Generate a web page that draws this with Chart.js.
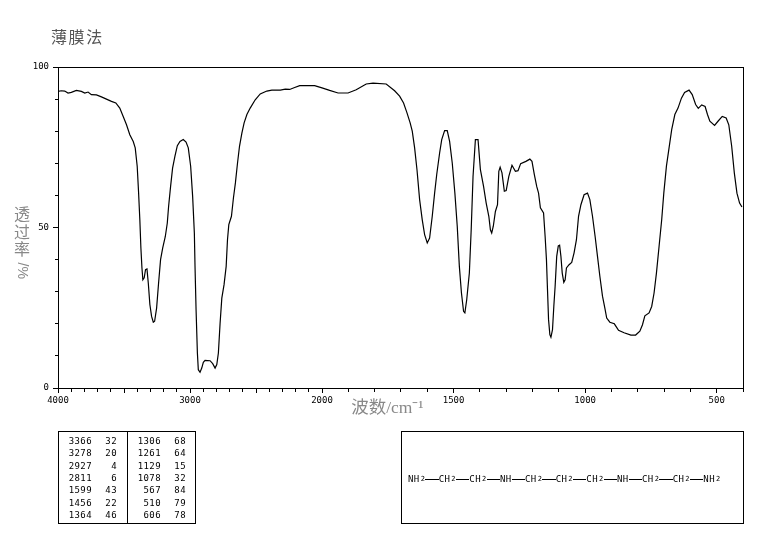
<!DOCTYPE html>
<html>
<head>
<meta charset="utf-8">
<script src="https://cdn.jsdelivr.net/npm/chart.js@4/dist/chart.umd.min.js"></script>
<style>
body { margin: 0; background: #fff; }
#page { position: relative; width: 765px; height: 539px; overflow: hidden; }
canvas { position: absolute; left: 0; top: 0; }
#method { position: absolute; left: 51px; top: 24px; font: 16px "Noto Sans CJK SC"; color: #555; letter-spacing: 1.6px; }
#yTitle { position: absolute; left: 14px; top: 205px; width: 16px; font: 16px/17.5px "Noto Sans CJK SC"; color: #888; text-align: center; }
#yTitle div { height: 17.5px; }
#yTitle .turned { width: 18px; margin-top: 0; transform: translate(-1px, 4px) rotate(90deg); white-space: nowrap; font-family: "Liberation Sans"; font-size: 14px; }
#peaks { position: absolute; left: 58px; top: 431px; width: 136px; height: 91px; border: 1px solid #000; font: 9px "DejaVu Sans Mono", monospace; letter-spacing: 0.4px; color: #000; }
#peaks .divider { position: absolute; left: 68px; top: 0; bottom: 0; border-left: 1px solid #000; }
#peaks span { position: absolute; text-align: right; line-height: 10px; white-space: nowrap; }
#structure { position: absolute; left: 401px; top: 431px; width: 343px; height: 93px; border: 1px solid #000; font: 9px "DejaVu Sans Mono", monospace; letter-spacing: 0.4px; color: #000; display: flex; align-items: center; padding: 3px 0 0 6px; box-sizing: border-box; white-space: nowrap; }
#structure sub { font-size: 7px; line-height: 0; margin-left: 1px; vertical-align: -2px; }
#structure i { display: inline-block; width: 13.4px; border-top: 1px solid #000; margin: 0; vertical-align: 3px; }
</style>
</head>
<body>
<div id="page">
  <canvas id="irChart" width="765" height="539"></canvas>
  <div id="method">薄膜法</div>
  <div id="yTitle"><div>透</div><div>过</div><div>率</div><div class="turned">/%</div></div>
  <div id="peaks"><div class="divider"></div></div>
  <div id="structure"></div>
</div>
<script>
const wavenumbers = [
    4000, 3975, 3949, 3924, 3899, 3861, 3823, 3797, 3772, 3747, 3709, 3671, 3633, 3595, 3562, 3532, 3506, 3481, 3456, 3430,
    3415, 3400, 3390, 3380, 3372, 3364, 3357, 3347, 3337, 3326, 3316, 3304, 3291, 3278, 3268, 3253, 3238, 3223, 3207, 3187,
    3172, 3162, 3147, 3132, 3114, 3096, 3076, 3051, 3030, 3013, 2995, 2980, 2967, 2962, 2954, 2944, 2937, 2924, 2911, 2899,
    2886, 2848, 2828, 2810, 2797, 2785, 2772, 2759, 2742, 2726, 2716, 2706, 2686, 2671, 2656, 2640, 2625, 2607, 2590, 2569,
    2544, 2506, 2468, 2418, 2380, 2316, 2278, 2245, 2207, 2169, 2119, 2056, 2000, 1971, 1939, 1901, 1870, 1832, 1806, 1756,
    1724, 1705, 1690, 1677, 1665, 1657, 1648, 1639, 1629, 1619, 1610, 1600, 1591, 1581, 1572, 1564, 1553, 1545, 1534, 1524,
    1515, 1505, 1495, 1486, 1478, 1470, 1462, 1457, 1450, 1440, 1433, 1426, 1417, 1407, 1398, 1386, 1376, 1366, 1360, 1355,
    1349, 1341, 1333, 1328, 1323, 1316, 1307, 1300, 1290, 1278, 1265, 1255, 1245, 1225, 1210, 1202, 1193, 1184, 1177, 1170,
    1158, 1152, 1147, 1143, 1139, 1134, 1130, 1124, 1119, 1114, 1108, 1102, 1097, 1092, 1087, 1081, 1076, 1071, 1061, 1051,
    1042, 1033, 1025, 1016, 1004, 991, 982, 972, 962, 953, 944, 934, 925, 918, 906, 889, 873, 852, 826, 808,
    792, 782, 773, 757, 747, 738, 729, 719, 709, 701, 691, 681, 671, 659, 647, 634, 622, 605, 593, 580,
    570, 557, 544, 535, 526, 508, 495, 479, 464, 454, 443, 433, 423, 413, 404
];
const transmittance = [
    92.4, 92.6, 92.5, 91.9, 92.1, 92.7, 92.4, 91.9, 92.2, 91.4, 91.3, 90.7, 90.0, 89.3, 88.8, 87.2, 84.6, 82.0, 78.9, 76.8,
    74.8, 69.1, 61.3, 52.4, 43.6, 37.4, 33.7, 34.3, 36.9, 37.1, 32.7, 26.0, 22.3, 20.5, 20.8, 24.9, 32.7, 40.0, 43.6, 47.2,
    51.4, 56.6, 62.8, 68.5, 72.2, 75.5, 76.8, 77.4, 76.6, 74.8, 69.1, 59.7, 48.3, 37.9, 24.4, 10.9, 5.7, 4.9, 6.2, 8.0,
    8.6, 8.5, 7.6, 6.2, 7.3, 10.9, 20.2, 28.0, 32.2, 37.9, 46.2, 50.9, 53.5, 59.2, 63.9, 70.1, 75.3, 79.4, 82.6, 85.2,
    87.2, 89.8, 91.6, 92.5, 92.8, 92.8, 93.1, 93.0, 93.6, 94.2, 94.2, 94.2, 93.5, 92.7, 91.9, 91.9, 92.9, 94.7, 95.0, 94.7,
    92.6, 90.9, 88.8, 85.7, 82.6, 80.0, 74.8, 68.0, 58.7, 52.4, 47.8, 45.2, 46.7, 53.5, 60.7, 66.5, 73.2, 77.4, 80.2, 80.2,
    76.8, 70.1, 60.7, 50.4, 37.9, 29.6, 23.9, 23.4, 27.5, 35.8, 49.3, 65.9, 77.4, 77.4, 68.0, 62.8, 57.6, 53.5, 49.3, 48.3,
    50.4, 55.0, 57.1, 67.5, 68.8, 67.0, 61.3, 61.5, 65.9, 69.4, 67.5, 67.7, 69.9, 70.6, 71.3, 70.6, 66.5, 62.8, 60.7, 56.1,
    54.5, 47.2, 40.0, 30.6, 21.3, 16.6, 15.8, 18.2, 25.4, 31.7, 41.0, 44.3, 44.5, 41.0, 35.8, 32.9, 33.7, 37.4, 38.4, 39.1,
    42.1, 46.2, 53.5, 57.1, 60.2, 60.7, 58.7, 53.5, 47.2, 41.0, 34.8, 28.6, 24.9, 21.8, 20.5, 20.0, 18.0, 17.2, 16.5, 16.5,
    17.7, 19.7, 22.5, 23.4, 25.4, 29.6, 35.8, 44.1, 52.4, 60.7, 69.1, 74.8, 80.5, 85.2, 87.2, 90.3, 92.1, 92.8, 91.4, 88.3,
    87.1, 88.2, 87.7, 85.2, 83.1, 81.8, 83.1, 84.6, 84.1, 82.0, 75.3, 67.0, 60.7, 57.6, 56.4
];

// x ticks: long ones every 500, short ones every 100, only some are labelled
const xMajorTicks = [4000, 3500, 3000, 2500, 2000, 1500, 1000, 500];
const xMinorTicks = [4000, 3900, 3800, 3700, 3600, 3500, 3400, 3300, 3200, 3100, 3000, 2900, 2800, 2700, 2600, 2500, 2400, 2300, 2200, 2100,
    2000, 1900, 1800, 1700, 1600, 1500, 1400, 1300, 1200, 1100, 1000, 900, 800, 700, 600, 500, 400];
const xLabelled = [4000, 3000, 2000, 1500, 1000, 500];

const peakWave = [3366, 3278, 2927, 2811, 1599, 1456, 1364, 1306, 1261, 1129, 1078, 567, 510, 606];
const peakTrans = [32, 20, 4, 6, 43, 22, 46, 68, 64, 15, 32, 84, 79, 78];
const structureGroups = ['NH|2', 'CH|2', 'CH|2', 'NH', 'CH|2', 'CH|2', 'CH|2', 'NH', 'CH|2', 'CH|2', 'NH|2'];

// the instrument doubles the x scale below 2000 cm-1
const breakValue = 2000;
const breakFraction = 264 / 685;

class BrokenScale extends Chart.LinearScale {
    getPixelForValue(value) {
        let f;
        if (value >= breakValue) {
            f = (4000 - value) / (4000 - breakValue) * breakFraction;
        } else {
            f = breakFraction + (breakValue - value) / (breakValue - 400) * (1 - breakFraction);
        }
        return this.left + f * this.width;
    }
    getValueForPixel(pixel) {
        const f = (pixel - this.left) / this.width;
        if (f <= breakFraction) {
            return 4000 - f / breakFraction * (4000 - breakValue);
        }
        return breakValue - (f - breakFraction) / (1 - breakFraction) * (breakValue - 400);
    }
}
BrokenScale.id = 'broken';
BrokenScale.defaults = Chart.LinearScale.defaults;
Chart.register(BrokenScale);

const frame = {
    id: 'frame',
    afterDraw(chart) {
        const a = chart.chartArea;
        const c = chart.ctx;
        c.save();
        c.strokeStyle = '#000';
        c.lineWidth = 1;
        c.strokeRect(a.left + 0.5, a.top + 0.5, a.right - a.left, a.bottom - a.top);
        c.restore();
    }
};

const tickFont = { family: 'DejaVu Sans Mono', size: 9 };

new Chart(document.getElementById('irChart'), {
    type: 'line',
    data: {
        datasets: [{
            data: wavenumbers.map((w, i) => ({ x: w, y: transmittance[i] })),
            borderColor: '#000',
            borderWidth: 1.2,
            pointRadius: 0,
            tension: 0
        }]
    },
    plugins: [frame],
    options: {
        responsive: false,
        animation: false,
        parsing: false,
        normalized: false,
        layout: { padding: { left: 8, top: 67, right: 22, bottom: 120 } },
        plugins: { legend: { display: false }, tooltip: { enabled: false } },
        scales: {
            x: {
                type: 'broken',
                position: 'bottom',
                min: 400,
                max: 4000,
                afterFit: s => { s.height = 31; },
                afterBuildTicks: s => { s.ticks = xMajorTicks.map(v => ({ value: v })); },
                grid: { drawOnChartArea: false, tickLength: 5, tickColor: '#000' },
                border: { color: '#000' },
                ticks: {
                    autoSkip: false,
                    maxRotation: 0,
                    padding: 2,
                    color: '#000',
                    font: tickFont,
                    callback: v => (xLabelled.includes(v) ? String(v) : '')
                },
                title: {
                    display: true,
                    // trailing spaces pull the centred title left of the axis middle, as in the original
                    text: '波数/cm⁻¹      ',
                    color: '#888',
                    padding: 0,
                    font: { family: '"Liberation Serif", "Noto Sans CJK SC"', size: 17.5 }
                }
            },
            xMinor: {
                type: 'broken',
                axis: 'x',
                position: { y: 0 },
                min: 400,
                max: 4000,
                afterBuildTicks: s => { s.ticks = xMinorTicks.map(v => ({ value: v })); },
                grid: { drawOnChartArea: false, tickLength: 3, tickColor: '#000' },
                border: { color: '#000' },
                ticks: { display: false, autoSkip: false, maxRotation: 0 }
            },
            y: {
                position: 'left',
                min: 0,
                max: 100,
                afterFit: s => { s.width = 50; },
                grid: { drawOnChartArea: false, tickLength: 5, tickColor: '#000' },
                border: { color: '#000' },
                ticks: { stepSize: 50, padding: 4, color: '#000', font: tickFont }
            },
            yMinor: {
                axis: 'y',
                position: { x: 4000 },
                min: 0,
                max: 100,
                grid: { drawOnChartArea: false, tickLength: 3, tickColor: '#000' },
                border: { color: '#000' },
                ticks: { display: false, stepSize: 10 }
            }
        }
    }
});

// peak table, two columns of seven rows
const peaksBox = document.getElementById('peaks');
peakWave.forEach((w, i) => {
    const col = i < 7 ? 0 : 1;
    const row = i % 7;
    const top = 4 + row * 12.3;
    const a = document.createElement('span');
    a.textContent = w;
    a.style.cssText = `left:${col ? 78 : 9}px;width:24px;top:${top}px`;
    const b = document.createElement('span');
    b.textContent = peakTrans[i];
    b.style.cssText = `left:${col ? 114 : 45}px;width:13px;top:${top}px`;
    peaksBox.appendChild(a);
    peaksBox.appendChild(b);
});

// structure formula
document.getElementById('structure').innerHTML = structureGroups.map(g => {
    const [base, sub] = g.split('|');
    return base + (sub ? `<sub>${sub}</sub>` : '');
}).join('<i></i>');
</script>
</body>
</html>
